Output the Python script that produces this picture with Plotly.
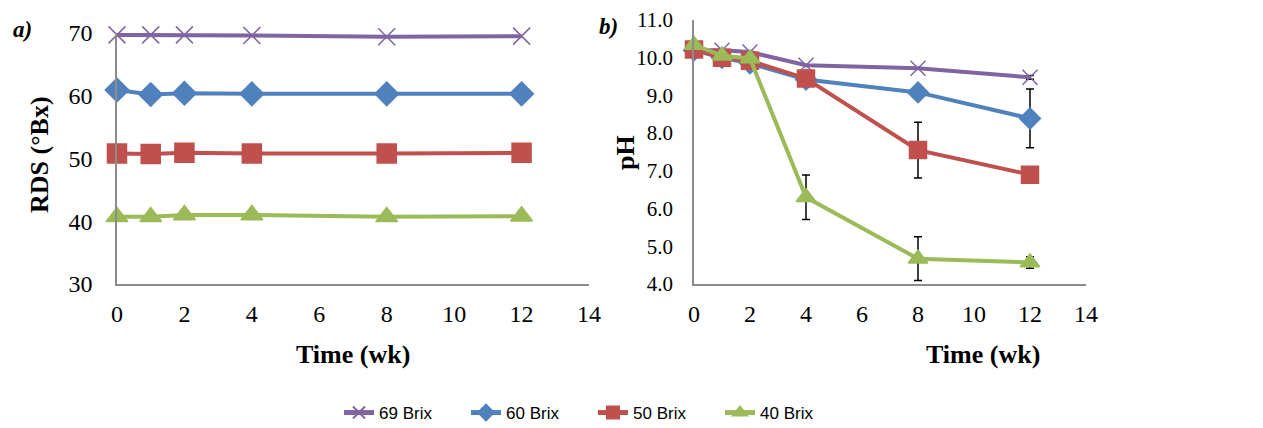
import plotly.graph_objects as go

weeks = [0, 1, 2, 4, 8, 12]
series_names = ["69 Brix", "60 Brix", "50 Brix", "40 Brix"]

rds_69 = [69.7, 69.7, 69.7, 69.6, 69.4, 69.5]
rds_60 = [60.9, 60.2, 60.4, 60.3, 60.3, 60.3]
rds_50 = [50.8, 50.7, 50.9, 50.8, 50.8, 50.9]
rds_40 = [40.7, 40.7, 41.0, 41.0, 40.7, 40.8]

ph_69 = [10.2, 10.2, 10.15, 9.8, 9.72, 9.48]
ph_60 = [10.2, 10.0, 9.85, 9.42, 9.08, 8.39]
ph_50 = [10.22, 10.0, 9.92, 9.45, 7.55, 6.9]
ph_40 = [10.34, 10.05, 9.98, 6.3, 4.67, 4.57]

err_69 = [0, 0, 0, 0, 0, 0.05]
err_60 = [0, 0, 0, 0, 0, 0.78]
err_50 = [0, 0, 0, 0, 0.74, 0]
err_40 = [0, 0, 0, 0.59, 0.58, 0.15]

colors = ["#8064A2", "#4F81BD", "#C0504D", "#9BBB59"]
symbols = ["x-thin-open", "diamond", "square", "triangle-up"]
sizes = [17, 18, 19, 19]

rds = [rds_69, rds_60, rds_50, rds_40]
ph = [ph_69, ph_60, ph_50, ph_40]
errs = [err_69, err_60, err_50, err_40]

W, H = 1263, 428
OFF = 8  # page body margin offset

fig = go.Figure()

for i in range(4):
    fig.add_trace(go.Scatter(
        x=weeks, y=rds[i], name=series_names[i], mode="lines+markers",
        line=dict(color=colors[i], width=4),
        marker=dict(symbol=symbols[i], size=sizes[i], color=colors[i],
                    line=dict(color=colors[i], width=1.5)),
        xaxis="x", yaxis="y", showlegend=True, legendgroup=series_names[i],
        cliponaxis=False,
    ))
for i in range(4):
    fig.add_trace(go.Scatter(
        x=weeks, y=ph[i], name=series_names[i], mode="lines+markers",
        line=dict(color=colors[i], width=4),
        marker=dict(symbol=symbols[i], size=sizes[i] - 2, color=colors[i],
                    line=dict(color=colors[i], width=1.5)),
        error_y=dict(type="data", array=errs[i], color="black", thickness=1.5, width=4),
        xaxis="x2", yaxis="y2", showlegend=False, legendgroup=series_names[i],
        cliponaxis=False,
    ))

def px_x(p):
    return (p - OFF) / W

def px_y(p):
    return 1 - (p - OFF) / H

serif = "Liberation Serif, Times New Roman, serif"
tick_a = dict(family=serif, size=24, color="black")
tick_bx = dict(family=serif, size=24, color="black")
tick_by = dict(family=serif, size=21, color="black")
axis_common = dict(showgrid=False, zeroline=False, showline=True, linecolor="#8C8C8C",
                   linewidth=1.5, ticks="", automargin=False, ticklabeloverflow="allow")

fig.update_layout(
    width=W, height=H,
    margin=dict(l=0, r=0, t=0, b=0, pad=0, autoexpand=False),
    paper_bgcolor="white", plot_bgcolor="white",
    xaxis=dict(domain=[px_x(117), px_x(589)], range=[0, 14], dtick=2, anchor="y",
               ticklabelstandoff=7, tickfont=tick_a, **axis_common),
    yaxis=dict(domain=[px_y(284), px_y(33)], range=[30, 70], dtick=10, anchor="x",
               ticklabelstandoff=18, tickfont=tick_a, **axis_common),
    xaxis2=dict(domain=[px_x(694), px_x(1086)], range=[0, 14], dtick=2, anchor="y2",
                ticklabelstandoff=7, tickfont=tick_bx, **axis_common),
    yaxis2=dict(domain=[px_y(284), px_y(20)], range=[4, 11], dtick=1, tickformat=".1f",
                anchor="x2", ticklabelstandoff=15, tickfont=tick_by, **axis_common),
    legend=dict(orientation="h", x=px_x(339), xanchor="left", y=px_y(413), yanchor="middle",
                font=dict(family="Liberation Sans Narrow, Liberation Sans, Arial, sans-serif",
                          size=17, color="black"),
                entrywidth=82, entrywidthmode="pixels", itemsizing="constant",
                tracegroupgap=0, bgcolor="rgba(0,0,0,0)"),
    showlegend=True,
)

ann = [
    dict(text="<b>RDS (°Bx)</b>", x=px_x(39), y=px_y(155), textangle=-90, size=26),
    dict(text="<b>pH</b>", x=px_x(626), y=px_y(153), textangle=-90, size=26),
    dict(text="<b>Time (wk)</b>", x=px_x(353), y=px_y(354), textangle=0, size=26),
    dict(text="<b>Time (wk)</b>", x=px_x(983), y=px_y(354), textangle=0, size=26),
    dict(text="<b><i>a)</i></b>", x=px_x(22), y=px_y(29), textangle=0, size=23),
    dict(text="<b><i>b)</i></b>", x=px_x(608), y=px_y(27), textangle=0, size=23),
]
for a in ann:
    s = a.pop("size")
    fig.add_annotation(xref="paper", yref="paper", showarrow=False,
                       font=dict(family=serif, size=s, color="black"),
                       xanchor="center", yanchor="middle", **a)

fig.write_html("out.html")
